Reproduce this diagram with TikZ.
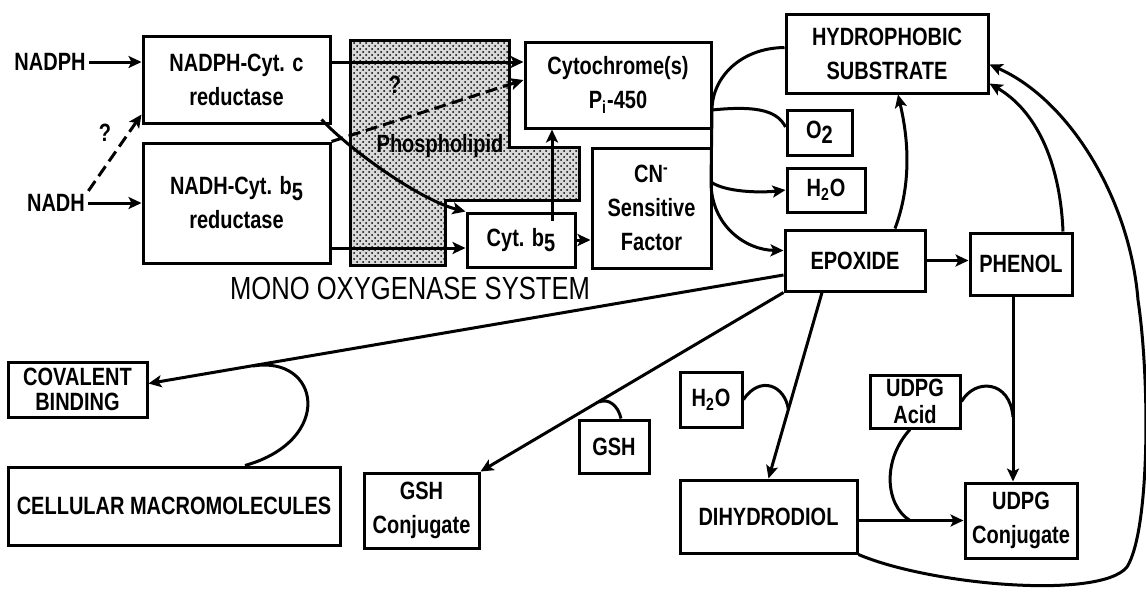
\documentclass[tikz,border=0pt]{standalone}
\usepackage{fontspec}
\setmainfont{Liberation Sans}[FakeStretch=0.8]
\usetikzlibrary{arrows.meta,patterns,calc}
\newcommand{\lowr}[1]{\raisebox{-0.4ex}{#1}}

\begin{document}
\begin{tikzpicture}[x=0.5pt,y=-0.5pt,line width=1.5pt,
  blk/.style={draw,inner sep=0pt,align=center,font=\bfseries\fontsize{12.5}{17}\selectfont},
  lbl/.style={inner sep=1pt,font=\bfseries\fontsize{12.5}{17}\selectfont},
  arr/.style={-{Stealth[length=6.5pt,width=6pt,inset=1.5pt]}},
  dasharr/.style={arr,dash pattern=on 6pt off 3pt}]
  \useasboundingbox (0,0) rectangle (1146,601);
  \draw[fill=gray!30,postaction={pattern=crosshatch dots}] (350,40) -- (509,40) -- (509,147)
    -- (579,147) -- (579,200) -- (445,200) -- (445,265) -- (350,265) -- cycle;
  \node[lbl] at (440,146) {Phospholipid};
  \node[font=\fontsize{16}{18}\selectfont] at (410,288) {MONO OXYGENASE SYSTEM};

  \node[lbl] (nadph) at (50,62) {NADPH};
  \node[lbl] (nadh) at (56,203) {NADH};
  \node[lbl] at (105,133) {?};
  \node[lbl] at (395,85) {?};
  \node[blk,minimum width=93.5pt,minimum height=43.5pt] (cred) at (236.5,79.5) {NADPH-Cyt. c\\reductase};
  \node[blk,minimum width=93.5pt,minimum height=60pt] (bred) at (236.5,203) {NADH-Cyt. b\lowr{5}\\reductase};
  \node[blk,minimum width=93pt,minimum height=43pt] (p450) at (618,85) {Cytochrome(s)\\P\textsubscript{i}-450};
  \node[blk,minimum width=54pt,minimum height=27pt] (cytb) at (521,240) {Cyt. b\lowr{5}};
  \node[blk,minimum width=59.5pt,minimum height=60pt] (cnf) at (651.5,208) {CN\textsuperscript{-}\\Sensitive\\Factor};
  \node[blk,minimum width=101pt,minimum height=39.5pt] (hyd) at (887,53.5) {HYDROPHOBIC\\SUBSTRATE};
  \node[blk,minimum width=32.5pt,minimum height=22.5pt] (oxy) at (819.5,132.5) {O\lowr{2}};
  \node[blk,minimum width=39pt,minimum height=22pt] (wat) at (826,190) {H\textsubscript{2}O};
  \node[blk,minimum width=70pt,minimum height=30.5pt] (epox) at (855,260.5) {EPOXIDE};
  \node[blk,minimum width=51pt,minimum height=31pt] (phen) at (1021,264) {PHENOL};
  \node[blk,minimum width=69.5pt,minimum height=27.5pt] (cov) at (77.5,389.5) {COVALENT\\[-4.5pt]BINDING};
  \node[blk,minimum width=166pt,minimum height=39pt] (cell) at (174,506) {CELLULAR MACROMOLECULES};
  \node[blk,minimum width=57.5pt,minimum height=37.5pt] (gshc) at (421.5,510.5) {GSH\\Conjugate};
  \node[blk,minimum width=35pt,minimum height=26.5pt] (gsh) at (614,446.5) {GSH};
  \node[blk,minimum width=31pt,minimum height=27.5pt] (wat2) at (711,399.5) {H\textsubscript{2}O};
  \node[blk,minimum width=88.5pt,minimum height=36.5pt] (diol) at (768.5,516.5) {DIHYDRODIOL};
  \node[blk,minimum width=45pt,minimum height=26.5pt] (udpa) at (915,401.5) {UDPG\\[-3.5pt]Acid};
  \node[blk,minimum width=56pt,minimum height=37.5pt] (udpc) at (1021,520.5) {UDPG\\Conjugate};

  \coordinate (b5in) at ([yshift=-4pt]cytb.west);
  \coordinate (b5up) at ([xshift=15.5pt]cytb.north);
  \coordinate (jo) at (712,110);
  \coordinate (jw) at (711,182);
  \coordinate (ju) at (1013,417);
  \coordinate (jd) at (910,520.5);
  \coordinate (jh) at (788.5,410);
  \coordinate (jg) at (599,402);
  \coordinate (jc) at (253,366);

  \draw[arr] (nadph) -- (cred.west |- nadph);
  \draw[arr] (nadh) -- (bred.west |- nadh);
  \draw[dasharr] (nadh.north east) -- ([yshift=5pt]cred.south west);
  \draw[arr] (cred.east |- nadph) -- (p450.west |- nadph);
  \draw[dasharr] (bred.north east) -- ([yshift=2.5pt]p450.west);
  \draw[arr] ([shift={(-5pt,2.5pt)}]cred.south east) .. controls (350,150) and (420,200) .. (cytb.north west);
  \draw[arr] (bred.east |- b5in) -- (b5in);
  \draw[arr] ([yshift=-4.5pt]b5up) -- (b5up |- p450.south);
  \draw[arr] (cytb.east) -- (cnf.west |- cytb.east);

  \draw[arr] ([yshift=3pt]hyd.west) .. controls (740,48) and (712,78) .. (jo) -- (jw)
    .. controls (711,225) and (745,250) .. ([yshift=5pt]epox.west);
  \draw (jo) .. controls (760,105) and (778,112) .. ([yshift=2.75pt]oxy.west);
  \draw[arr] (jw) .. controls (725,192) and (760,193) .. (wat.west);

  \draw[arr] (epox.east) -- (phen.west |- epox.east);
  \draw[arr] ([xshift=20pt]epox.north) .. controls (915,175) and (905,125) .. ([xshift=5.5pt]hyd.south);
  \draw[arr] ([xshift=21pt]phen.north) .. controls (1060,160) and (1035,110) .. ([yshift=-15pt]hyd.east);
  \draw[arr] (diol.south east) .. controls (930,585) and (1100,600) .. (1127,567)
    .. controls (1150,530) and (1150,380) .. (1138,300)
    .. controls (1130,200) and (1070,100) .. ([yshift=-5.5pt]hyd.east);

  \draw[arr] ([xshift=-4pt]phen.south) -- ([xshift=-4pt]udpc.north);
  \draw (udpa.east) .. controls (975,378) and (1010,380) .. (ju);
  \draw[arr] (diol.east |- udpc.west) -- (udpc.west);
  \draw ([xshift=-2.5pt]udpa.south) .. controls (882,460) and (885,505) .. (jd);

  \draw[arr] ([xshift=-16.5pt]epox.south) -- (diol.north);
  \draw (wat2.east) .. controls (760,375) and (785,385) .. (jh);
  \draw[arr] (epox.south west) -- (gshc.north east);
  \draw ([xshift=3.5pt]gsh.north) .. controls (618,405) and (608,398) .. (jg);
  \draw[arr] ([yshift=-7.25pt]epox.west) -- ([yshift=3pt]cov.east);
  \draw ([xshift=35.5pt]cell.north) .. controls (335,440) and (320,355) .. (jc);
\end{tikzpicture}
\end{document}
